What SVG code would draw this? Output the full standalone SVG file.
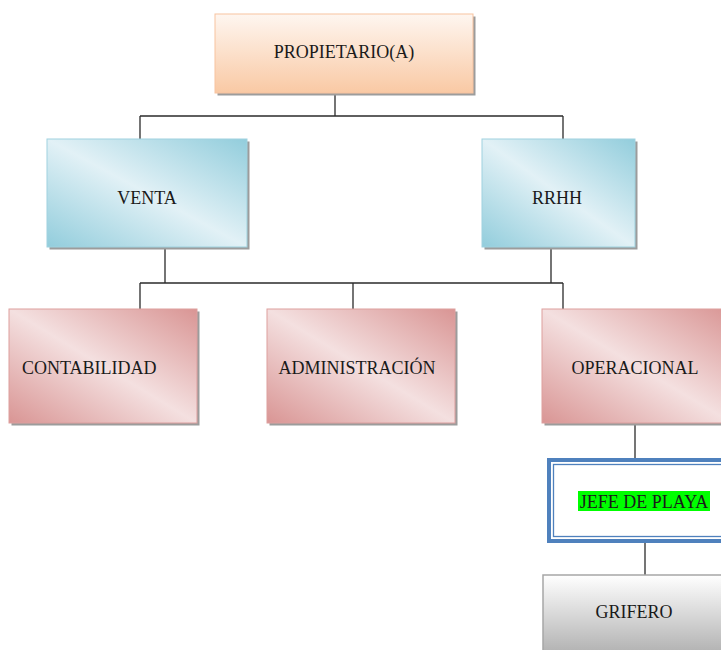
<svg xmlns="http://www.w3.org/2000/svg" width="721" height="650" viewBox="0 0 721 650">
  <defs>
    <linearGradient id="gOrange" x1="0" y1="0" x2="0" y2="1">
      <stop offset="0" stop-color="#fef6f0"/>
      <stop offset="1" stop-color="#f9c9a4"/>
    </linearGradient>
    <linearGradient id="gBlue" x1="1" y1="0" x2="0" y2="1">
      <stop offset="0" stop-color="#92cddc"/>
      <stop offset="0.5" stop-color="#e2f1f6"/>
      <stop offset="1" stop-color="#92cddc"/>
    </linearGradient>
    <linearGradient id="gPink" x1="1" y1="0" x2="0" y2="1">
      <stop offset="0" stop-color="#d99594"/>
      <stop offset="0.5" stop-color="#f4e0e0"/>
      <stop offset="1" stop-color="#d99594"/>
    </linearGradient>
    <linearGradient id="gGray" x1="0" y1="0" x2="0" y2="1">
      <stop offset="0" stop-color="#ffffff"/>
      <stop offset="1" stop-color="#a6a6a6"/>
    </linearGradient>
  </defs>
  <style>
    .shadow { fill: #9c9c9c; }
    .orange { fill: url(#gOrange); stroke: #f7c3a0; stroke-width: 1; }
    .blue { fill: url(#gBlue); stroke: #9fd2df; stroke-width: 1; }
    .pink { fill: url(#gPink); stroke: #dd9f9e; stroke-width: 1; }
    .gray { fill: url(#gGray); stroke: #a6a6a6; stroke-width: 1.5; }
    .lbl { font-family: "Liberation Serif", "Times New Roman", serif; font-size: 18px; fill: #1a1a1a; }
    .mid { text-anchor: middle; }
    .conn { fill: none; stroke: #2b2b2b; stroke-width: 1.3; }
  </style>

  <rect width="721" height="650" fill="#ffffff"/>

  <g id="connectors">
    <path class="conn" d="M335 95 V116 M140 116 H563 M140 116 V139 M563 116 V139"/>
    <path class="conn" d="M165 249 V283 M551 249 V283 M140 283 H563 M140 283 V309 M353 283 V309 M563 283 V309"/>
    <path class="conn" d="M635 425 V458"/>
    <path class="conn" d="M645 543 V575"/>
  </g>

  <g id="propietario">
    <rect class="shadow" x="217.5" y="16.5" width="258" height="79"/>
    <rect class="orange" x="215" y="14" width="258" height="79"/>
    <text class="lbl mid" x="344" y="58">PROPIETARIO(A)</text>
  </g>

  <g id="venta">
    <rect class="shadow" x="49.5" y="141.5" width="200" height="108"/>
    <rect class="blue" x="47" y="139" width="200" height="108"/>
    <text class="lbl mid" x="147" y="204">VENTA</text>
  </g>

  <g id="rrhh">
    <rect class="shadow" x="484.5" y="141.5" width="153" height="108"/>
    <rect class="blue" x="482" y="139" width="153" height="108"/>
    <text class="lbl mid" x="557" y="204">RRHH</text>
  </g>

  <g id="contabilidad">
    <rect class="shadow" x="11.5" y="311.5" width="188" height="114"/>
    <rect class="pink" x="9" y="309" width="188" height="114"/>
    <text class="lbl" x="22" y="374">CONTABILIDAD</text>
  </g>

  <g id="administracion">
    <rect class="shadow" x="269.5" y="311.5" width="188" height="114"/>
    <rect class="pink" x="267" y="309" width="188" height="114"/>
    <text class="lbl mid" x="357" y="374">ADMINISTRACIÓN</text>
  </g>

  <g id="operacional">
    <rect class="shadow" x="544.5" y="311.5" width="190" height="114"/>
    <rect class="pink" x="542" y="309" width="190" height="114"/>
    <text class="lbl mid" x="635" y="374">OPERACIONAL</text>
  </g>

  <g id="jefe-de-playa">
    <rect x="549" y="460" width="180" height="81" fill="#ffffff" stroke="#4f81bd" stroke-width="4"/>
    <rect x="553.5" y="464.5" width="180" height="72" fill="none" stroke="#4f81bd" stroke-width="1.3"/>
    <rect x="578" y="491" width="132" height="20" fill="#00ff00"/>
    <text class="lbl mid" x="644" y="508">JEFE DE PLAYA</text>
  </g>

  <g id="grifero">
    <rect class="gray" x="543" y="575" width="190" height="90"/>
    <text class="lbl mid" x="634" y="618">GRIFERO</text>
  </g>
</svg>
